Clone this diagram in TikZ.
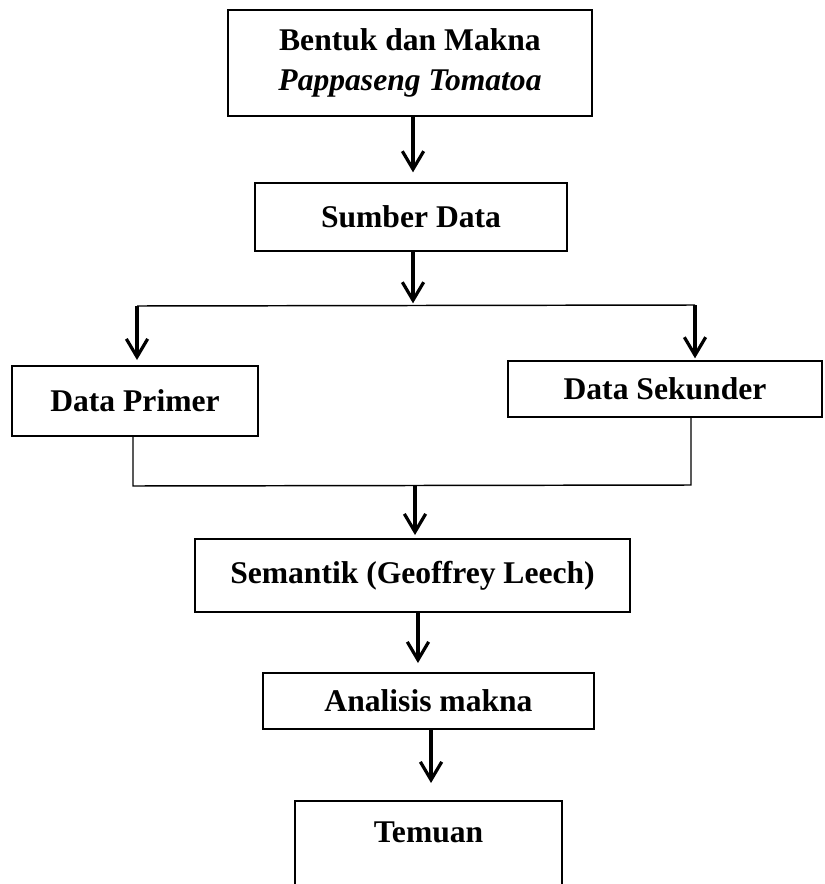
\documentclass[tikz,border=0pt]{standalone}
\usepackage{fontspec}
\setmainfont{Liberation Serif}
\usetikzlibrary{arrows.meta,positioning,calc}
\tikzset{
  >={Straight Barb[length=13.5pt,width=16pt]},
  box/.style={draw=black,line width=2pt,outer sep=0pt,inner sep=2pt,align=center,
    font=\bfseries\fontsize{23.7}{30}\selectfont},
  flow/.style={->,line width=2.4pt,draw=black},
  link/.style={line width=1.1pt,draw=black},
}
\begin{document}
\begin{tikzpicture}[x=0.75pt,y=-0.75pt]
    \useasboundingbox (0,0) rectangle (824,884);
    \clip (0,0) rectangle (824,884);
    % boxes
    \node[box,minimum width=273pt,minimum height=79.5pt] (form) at (410,63) {Bentuk dan Makna\\\textit{Pappaseng Tomatoa}};
    \node[box,minimum width=234pt,minimum height=51pt] (source) at (411,217) {Sumber Data};
    \node[box,minimum width=184.5pt,minimum height=52.5pt] (primary) at (135,401) {Data Primer};
    \node[box,minimum width=235.5pt,minimum height=42pt] (secondary) at (665,389) {Data Sekunder};
    \node[box,minimum width=326.25pt,minimum height=54.75pt] (leech) at (412.5,575.5) {Semantik (Geoffrey Leech)};
    \node[box,minimum width=248.25pt,minimum height=42pt] (meaning) at (428.5,701) {Analisis makna};
    \node[box,minimum width=200.25pt,inner sep=0pt,text height=30.75pt,text depth=80pt,anchor=north] (result) at (428.5,801) {Temuan};
    % branch and join points
    \coordinate (split) at (413,306);
    \coordinate (sl) at (137,306);
    \coordinate (sr) at (695,305);
    \coordinate (jl) at (133,486);
    \coordinate (jr) at (691,485);
    \coordinate (join) at (415,485);
    % connectors
    \draw[flow,shorten >=8pt] ([xshift=2.25pt]form.south) -- ([xshift=2.25pt]form.south |- source.north);
    \draw[flow,shorten >=2pt] ([xshift=1.5pt]source.south) -- (split);
    \draw[link] (sl) -- (sr);
    \draw[flow,shorten >=4.5pt] (sl) -- (sl |- primary.north);
    \draw[flow,shorten >=2pt] (sr) -- (sr |- secondary.north);
    \draw[link] (jl |- primary.south) -- (jl) -- (jr) -- (jr |- secondary.south);
    \draw[flow,shorten >=3pt] (join) -- (join |- leech.north);
    \draw[flow,shorten >=7.5pt] ([xshift=4.1pt]leech.south) -- ([xshift=4.1pt]leech.south |- meaning.north);
    \draw[flow,shorten >=13.5pt] ([xshift=1.9pt]meaning.south) -- ([xshift=1.9pt]meaning.south |- result.north);
  \end{tikzpicture}
\end{document}
